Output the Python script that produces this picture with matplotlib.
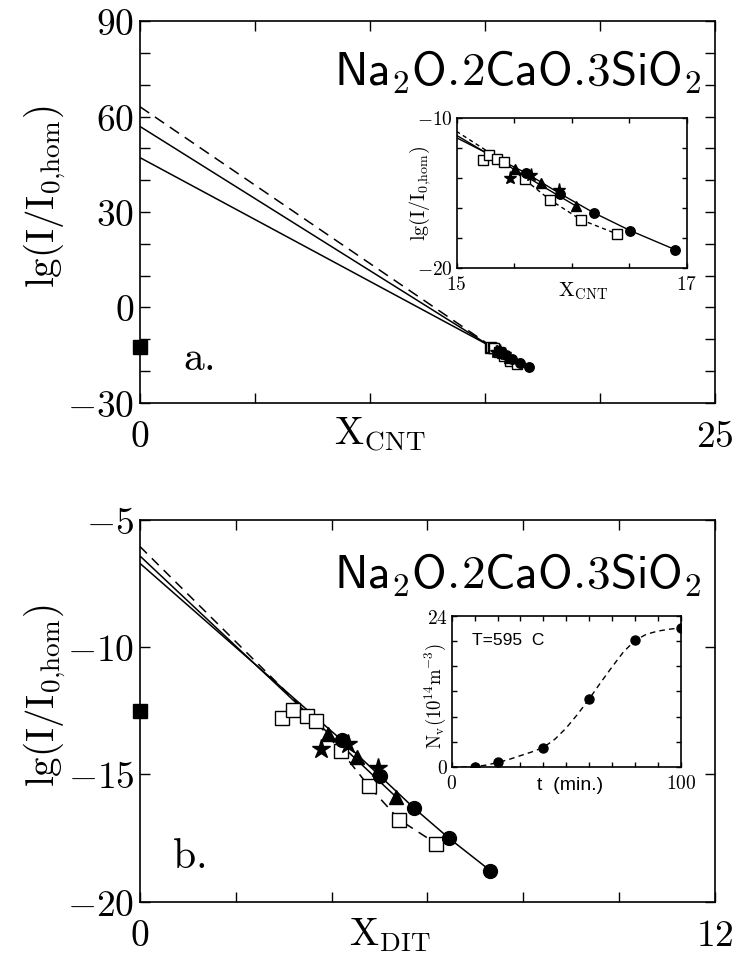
import matplotlib
matplotlib.use("Agg")
import matplotlib.pyplot as plt
import numpy as np

plt.rcParams['mathtext.fontset'] = 'cm'
plt.rcParams['lines.scale_dashes'] = False

# ---------------- data ----------------
# shared lg(I/I0,hom) values
sq_y = [-12.77, -12.48, -12.73, -12.92, -14.10, -15.45, -16.78, -17.72]
ci_y = [-13.66, -15.05, -16.31, -17.51, -18.78]
tr_y = [-13.40, -14.33, -15.88]
st_y = [-14.00, -13.82, -14.77]
hom_y = -12.5   # filled square at X = 0

# CNT abscissae
sq_xc = [15.23, 15.28, 15.35, 15.41, 15.59, 15.81, 16.08, 16.39]
ci_xc = [15.60, 15.90, 16.19, 16.51, 16.90]
tr_xc = [15.51, 15.73, 16.04]
st_xc = [15.46, 15.65, 15.89]

# DIT abscissae
sq_xd = [2.96, 3.19, 3.48, 3.67, 4.20, 4.77, 5.41, 6.18]
ci_xd = [4.21, 5.00, 5.71, 6.45, 7.31]
tr_xd = [3.93, 4.52, 5.34]
st_xd = [3.78, 4.35, 4.97]

# theory lines (vertices)
cnt_s1_x = [0, 15.60, 15.90, 16.19, 16.51, 16.90]
cnt_s1_y = [47.1, -13.66, -15.05, -16.31, -17.51, -18.78]
cnt_s2_x = [0, 16.04]
cnt_s2_y = [56.9, -15.88]
cnt_d_x = [0, 15.41, 15.59, 15.81, 16.08, 16.39]
cnt_d_y = [63.1, -12.92, -14.10, -15.45, -16.78, -17.72]

dit_s1_x = [0, 4.21, 5.00, 5.71, 6.45, 7.31]
dit_s1_y = [-6.72, -13.66, -15.05, -16.31, -17.51, -18.78]
dit_s2_x = [0, 5.34]
dit_s2_y = [-6.43, -15.88]
dit_d_x = [0, 3.67, 4.20, 4.77, 5.41, 6.18]
dit_d_y = [-6.06, -12.92, -14.10, -15.45, -16.78, -17.72]

# inset b: N_v vs t
t_pts = [10, 20, 40, 60, 80, 100]
nv_pts = [0.0, 0.8, 3.0, 10.8, 20.2, 22.1]
t_curve = [0, 5, 10, 15, 20, 25, 30, 35, 40, 45, 50, 55, 60, 65, 70, 75, 80, 85, 90, 95, 100]
nv_curve = [0.0, 0.0, 0.05, 0.3, 0.7, 1.2, 1.8, 2.4, 3.1, 4.4, 6.2, 8.4, 10.8, 13.4, 15.9, 18.3, 20.1, 21.1, 21.6, 21.9, 22.1]

title = r'$\mathsf{Na_2O.\!2CaO.\!3SiO_2}$'
ylab = r'$\mathrm{lg(I/I_{0{,}hom})}$'

fig = plt.figure(figsize=(7.38, 9.71), dpi=100)

def style(ax, L, pad_x, pad_y, lab):
    ax.tick_params(which='both', direction='in', length=L, width=1.0,
                   top=True, right=True, labelsize=lab)
    ax.tick_params(axis='x', pad=pad_x)
    ax.tick_params(axis='y', pad=pad_y)
    for s in ax.spines.values():
        s.set_linewidth(1.2)

def draw_lines(ax, xs, ys, lw, dash):
    (s1x, s2x, dx) = xs
    (s1y, s2y, dy) = ys
    ax.plot(s1x, s1y, color='black', lw=lw, solid_capstyle='butt')
    ax.plot(s2x, s2y, color='black', lw=lw, solid_capstyle='butt')
    ax.plot(dx, dy, color='black', lw=lw, dashes=dash)

def draw_points(ax, sx, cx, tx, stx, ms):
    ax.plot(sx, sq_y, 's', ms=ms, mfc='white', mec='black', mew=1.0)
    ax.plot(cx, ci_y, 'o', ms=ms * 1.05, color='black')
    ax.plot(tx, tr_y, '^', ms=ms * 1.05, color='black')
    ax.plot(stx, st_y, '*', ms=ms * 1.45, color='black')

def set_xlab(ax, text, size, x, y):
    ax.set_xlabel(text, fontsize=size)
    ax.xaxis.set_label_coords(x, y)
    ax.xaxis.label.set_va('baseline')

def vlabel(ax, text, size, x, y):
    ax.text(x, y, text, transform=ax.transAxes, rotation=90, fontsize=size,
            ha='center', va='center', rotation_mode='anchor')

# ---------------- panel a ----------------
axa = fig.add_axes([0.1897, 0.5853, 0.7791, 0.3928])
draw_lines(axa, (cnt_s1_x, cnt_s2_x, cnt_d_x), (cnt_s1_y, cnt_s2_y, cnt_d_y), 1.1, (8, 5))
draw_points(axa, sq_xc, ci_xc, tr_xc, st_xc, 6.5)
axa.plot([0], [hom_y], 's', ms=10, color='black', clip_on=False, zorder=5)
axa.set_xlim(0, 25)
axa.set_ylim(-30, 90)
xt = [0, 5, 10, 15, 20, 25]
axa.set_xticks(xt, ['$0$', '', '', '', '', '$25$'])
yt = list(range(-30, 91, 10))
axa.set_yticks(yt, [f'${v}$' if v % 30 == 0 else '' for v in yt])
style(axa, 7, 12, 4, 27)
set_xlab(axa, r'$\mathrm{X_{CNT}}$', 28, 0.417, -0.111)
vlabel(axa, ylab, 28, -0.165, 0.54)
axa.text(0.977, 0.83, title, transform=axa.transAxes, ha='right', va='baseline', fontsize=34)
axa.text(0.075, 0.086, r'$\mathrm{a.}$', transform=axa.transAxes, ha='left', va='baseline', fontsize=30)

# inset a
ia = fig.add_axes([0.6188, 0.7240, 0.3117, 0.1545])
draw_lines(ia, (cnt_s1_x, cnt_s2_x, cnt_d_x), (cnt_s1_y, cnt_s2_y, cnt_d_y), 1.0, (3, 2.5))
draw_points(ia, sq_xc, ci_xc, tr_xc, st_xc, 6.5)
ia.set_xlim(15, 17)
ia.set_ylim(-20, -10)
ixt = [15, 15.5, 16, 16.5, 17]
ia.set_xticks(ixt, ['$15$', '', '', '', '$17$'])
iyt = [-20, -18, -16, -14, -12, -10]
ia.set_yticks(iyt, ['$-20$', '', '', '', '', '$-10$'])
style(ia, 3.5, 5, 3, 14)
set_xlab(ia, r'$\mathrm{X_{CNT}}$', 15, 0.55, -0.19)
vlabel(ia, ylab, 14.5, -0.16, 0.50)

# ---------------- panel b ----------------
axb = fig.add_axes([0.1897, 0.0714, 0.7791, 0.3935])
draw_lines(axb, (dit_s1_x, dit_s2_x, dit_d_x), (dit_s1_y, dit_s2_y, dit_d_y), 1.1, (7, 5))
draw_points(axb, sq_xd, ci_xd, tr_xd, st_xd, 9.5)
axb.plot([0], [hom_y], 's', ms=10, color='black', clip_on=False, zorder=5)
axb.set_xlim(0, 12)
axb.set_ylim(-20, -5)
bxt = [0, 2, 4, 6, 8, 10, 12]
axb.set_xticks(bxt, ['$0$', '', '', '', '', '', '$12$'])
byt = [-20, -15, -10, -5]
axb.set_yticks(byt, [f'${v}$' for v in byt])
style(axb, 7, 12, 4, 27)
set_xlab(axb, r'$\mathrm{X_{DIT}}$', 28, 0.435, -0.113)
vlabel(axb, ylab, 28, -0.165, 0.54)
axb.text(0.977, 0.82, title, transform=axb.transAxes, ha='right', va='baseline', fontsize=34)
axb.text(0.056, 0.088, r'$\mathrm{b.}$', transform=axb.transAxes, ha='left', va='baseline', fontsize=30)

# inset b
ib = fig.add_axes([0.6121, 0.2101, 0.3103, 0.1555])
ib.plot(t_curve, nv_curve, color='black', lw=1.0, dashes=(4, 3))
ib.plot(t_pts, nv_pts, 'o', ms=6.5, color='black')
ib.set_xlim(0, 100)
ib.set_ylim(0, 24)
tbx = list(range(0, 101, 10))
ib.set_xticks(tbx, ['$0$'] + [''] * 9 + ['$100$'])
tby = [0, 4, 8, 12, 16, 20, 24]
ib.set_yticks(tby, ['$0$', '', '', '', '', '', '$24$'])
style(ib, 3.5, 5, 3, 14)
ib.set_xlabel('t  (min.)', fontsize=14, family='Liberation Sans')
ib.xaxis.set_label_coords(0.517, -0.15)
ib.xaxis.label.set_va('baseline')
vlabel(ib, r'$\mathrm{N_v(10^{14}m^{-3})}$', 13.5, -0.07, 0.47)
ib.text(0.09, 0.84, 'T=595  C', transform=ib.transAxes, ha='left', va='center',
        fontsize=12.5, family='Liberation Sans')

fig.savefig('out.png', dpi=100)
